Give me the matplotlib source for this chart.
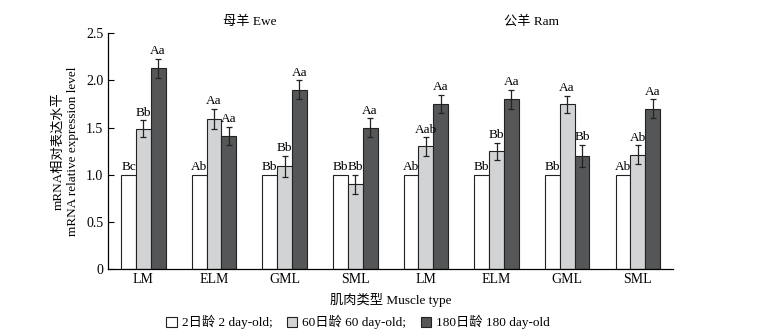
import numpy as np
import matplotlib.pyplot as plt
from matplotlib.patches import Patch

plt.rcParams['font.family'] = ['Liberation Serif', 'Noto Sans CJK SC']

muscles = ['LM', 'ELM', 'GML', 'SML', 'LM', 'ELM', 'GML', 'SML']
series_names = ['2日龄 2 day-old;', '60日龄 60 day-old;', '180日龄 180 day-old']

d2 = [1.0, 1.0, 1.0, 1.0, 1.0, 1.0, 1.0, 1.0]
d60 = [1.49, 1.59, 1.09, 0.90, 1.30, 1.25, 1.75, 1.21]
d180 = [2.13, 1.41, 1.90, 1.50, 1.75, 1.80, 1.20, 1.70]
err60 = [0.09, 0.11, 0.11, 0.10, 0.10, 0.09, 0.09, 0.10]
err180 = [0.10, 0.10, 0.10, 0.10, 0.10, 0.10, 0.12, 0.10]

lab2 = ['Bc', 'Ab', 'Bb', 'Bb', 'Ab', 'Bb', 'Bb', 'Ab']
lab60 = ['Bb', 'Aa', 'Bb', 'Bb', 'Aab', 'Bb', 'Aa', 'Ab']
lab180 = ['Aa', 'Aa', 'Aa', 'Aa', 'Aa', 'Aa', 'Bb', 'Aa']

colors = ['white', '#d2d3d5', '#555657']

fig = plt.figure(figsize=(7.8, 3.34), dpi=100)
ax = fig.add_axes([0.1385, 0.195, 0.7245, 0.705])

x = np.arange(len(muscles))
w = 0.21
vals = [d2, d60, d180]
errs = [None, err60, err180]
labs = [lab2, lab60, lab180]
for k in range(3):
    xs = x + (k - 1) * w
    ax.bar(xs, vals[k], w, color=colors[k], edgecolor='#222222', linewidth=0.8, zorder=2)
    if errs[k] is not None:
        ax.errorbar(xs, vals[k], yerr=errs[k], fmt='none', ecolor='#222222',
                    elinewidth=0.9, capsize=2.5, capthick=0.9, zorder=3)
    for i in range(len(muscles)):
        top = vals[k][i] + (errs[k][i] if errs[k] is not None else 0)
        ax.text(xs[i], top + 0.015, labs[k][i], ha='center', va='bottom', fontsize=9.5)

ax.text(1.5, 2.56, '母羊 Ewe', ha='center', va='bottom', fontsize=9.5)
ax.text(5.5, 2.56, '公羊 Ram', ha='center', va='bottom', fontsize=9.5)

ax.set_xlim(-0.5, 7.5)
ax.set_ylim(0, 2.5)
ax.set_xticks(x)
ax.set_xticklabels(muscles, fontsize=10)
ax.tick_params(axis='x', length=0, pad=3)
ax.set_yticks([0, 0.5, 1.0, 1.5, 2.0, 2.5])
ax.set_yticklabels(['0', '0.5', '1.0', '1.5', '2.0', '2.5'], fontsize=10)
ax.tick_params(axis='y', direction='in', length=4, width=0.8)
for s in ['top', 'right']:
    ax.spines[s].set_visible(False)
for s in ['left', 'bottom']:
    ax.spines[s].set_linewidth(0.9)

ax.set_ylabel('mRNA相对表达水平\nmRNA relative expression level', fontsize=9.5,
              labelpad=5, linespacing=1.3)
ax.set_xlabel('肌肉类型 Muscle type', fontsize=9.5, labelpad=5)

handles = [Patch(facecolor=c, edgecolor='#222222', linewidth=0.8) for c in colors]
fig.legend(handles, series_names, loc='center', bbox_to_anchor=(0.459, 0.035), ncol=3,
           frameon=False, fontsize=9.5, handlelength=0.8, handleheight=0.8,
           handletextpad=0.35, columnspacing=1.1)

fig.savefig('out.png', dpi=100)
